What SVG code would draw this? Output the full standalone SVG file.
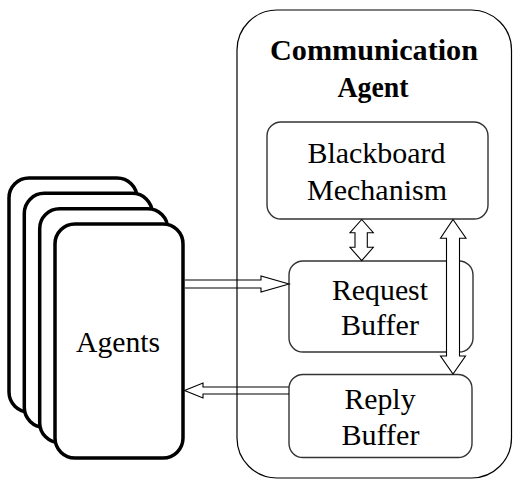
<svg xmlns="http://www.w3.org/2000/svg" width="514" height="480" viewBox="0 0 514 480">
  <style>
    .label { font-family: "Liberation Serif", "DejaVu Serif", serif; font-size: 30px; fill: #000; text-anchor: middle; }
    .title { font-weight: bold; }
    .card { fill: #fff; stroke: #000; stroke-width: 3.5; }
    .box { fill: #fff; stroke: #333; stroke-width: 1.4; }
    .frame { fill: #fff; stroke: #000; stroke-width: 1.2; }
    .open-arrow { fill: none; stroke: #000; stroke-width: 1.1; stroke-linejoin: miter; }
    .solid-arrow { fill: #fff; stroke: #000; stroke-width: 1.1; stroke-linejoin: miter; }
  </style>

  <!-- Communication agent container -->
  <g id="communication-agent">
    <rect class="frame" x="237" y="10" width="274.5" height="468" rx="40" ry="40"/>
    <text class="label title" x="374" y="60" textLength="208" lengthAdjust="spacingAndGlyphs">Communication</text>
    <text class="label title" x="373" y="97" textLength="71" lengthAdjust="spacingAndGlyphs">Agent</text>
  </g>

  <g id="blackboard-mechanism">
    <rect class="box" x="267" y="122" width="221" height="97" rx="14" ry="14"/>
    <text class="label" x="376.5" y="163" textLength="138" lengthAdjust="spacingAndGlyphs">Blackboard</text>
    <text class="label" x="377" y="200" textLength="140" lengthAdjust="spacingAndGlyphs">Mechanism</text>
  </g>

  <g id="request-buffer">
    <rect class="box" x="289" y="261" width="184" height="91" rx="14" ry="14"/>
    <text class="label" x="380" y="300" textLength="96" lengthAdjust="spacingAndGlyphs">Request</text>
    <text class="label" x="380" y="335" textLength="78" lengthAdjust="spacingAndGlyphs">Buffer</text>
  </g>

  <g id="reply-buffer">
    <rect class="box" x="289" y="374.5" width="183" height="83" rx="14" ry="14"/>
    <text class="label" x="380" y="409" textLength="71" lengthAdjust="spacingAndGlyphs">Reply</text>
    <text class="label" x="380.5" y="445" textLength="78" lengthAdjust="spacingAndGlyphs">Buffer</text>
  </g>

  <!-- Stack of agent cards, back to front -->
  <g id="agents">
    <rect class="card" x="9" y="178" width="128" height="234" rx="20" ry="20"/>
    <rect class="card" x="24.3" y="193.3" width="128" height="234" rx="20" ry="20"/>
    <rect class="card" x="39.7" y="208.7" width="128" height="234" rx="20" ry="20"/>
    <rect class="card" x="55" y="224" width="128" height="234" rx="20" ry="20"/>
    <text class="label" x="118" y="352" textLength="84" lengthAdjust="spacingAndGlyphs">Agents</text>
  </g>

  <!-- Connectors: hollow block arrows -->
  <g id="connectors">
    <!-- agents to request buffer -->
    <path class="open-arrow" d="M185,280 L261,280 L261,276 L289,284 L261,292 L261,288 L185,288"/>
    <!-- reply buffer to agents -->
    <path class="open-arrow" d="M289,387 L203,387 L203,383 L184.5,390.5 L203,398 L203,394 L289,394"/>
    <!-- blackboard <-> request buffer -->
    <path class="solid-arrow" d="M361.7,219.5 L373.3,232.7 L367.3,232.7 L367.3,247.3 L373.3,247.3 L361.7,260.7 L350,247.3 L355,247.3 L355,232.7 L350,232.7 Z"/>
    <!-- blackboard <-> reply buffer -->
    <path class="solid-arrow" d="M453,219.5 L466,238.3 L459.5,238.3 L459.5,356 L465.5,356 L453,374 L440.5,356 L446.5,356 L446.5,238.3 L440.5,238.3 Z"/>
  </g>
</svg>
